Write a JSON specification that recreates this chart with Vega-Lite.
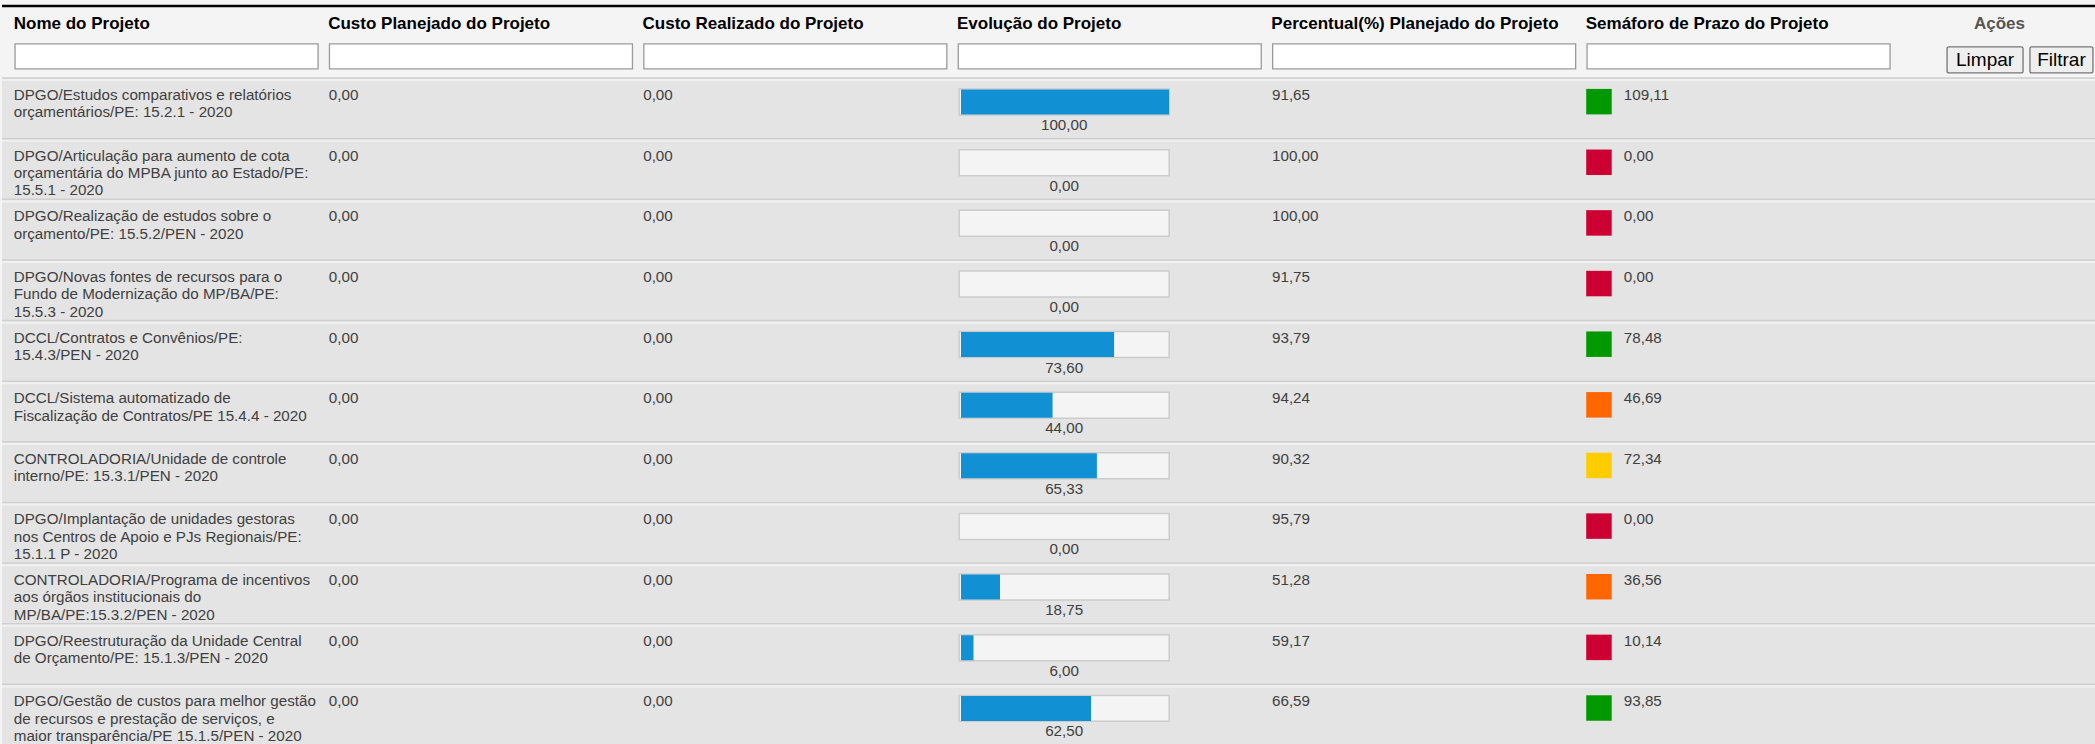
{
  "$schema": "https://vega.github.io/schema/vega-lite/v6.json",
  "padding": 0,
  "spacing": 0,
  "background": "#f4f4f4",
  "config": {
    "view": {"stroke": null},
    "font": "Liberation Sans",
    "concat": {"spacing": 0},
    "locale": {"number": {"decimal": ",", "thousands": ".", "grouping": [3], "currency": ["R$ ", ""]}}
  },
  "datasets": {
    "linhas": [
      {"id": 1, "nome": "DPGO/Estudos comparativos e relatórios\norçamentários/PE: 15.2.1 - 2020", "custoPlan": 0, "custoReal": 0, "evolucao": 100, "percentual": 91.65, "semaforo": 109.11, "status": "verde"},
      {"id": 2, "nome": "DPGO/Articulação para aumento de cota\norçamentária do MPBA junto ao Estado/PE:\n15.5.1 - 2020", "custoPlan": 0, "custoReal": 0, "evolucao": 0, "percentual": 100, "semaforo": 0, "status": "vermelho"},
      {"id": 3, "nome": "DPGO/Realização de estudos sobre o\norçamento/PE: 15.5.2/PEN - 2020", "custoPlan": 0, "custoReal": 0, "evolucao": 0, "percentual": 100, "semaforo": 0, "status": "vermelho"},
      {"id": 4, "nome": "DPGO/Novas fontes de recursos para o\nFundo de Modernização do MP/BA/PE:\n15.5.3 - 2020", "custoPlan": 0, "custoReal": 0, "evolucao": 0, "percentual": 91.75, "semaforo": 0, "status": "vermelho"},
      {"id": 5, "nome": "DCCL/Contratos e Convênios/PE:\n15.4.3/PEN - 2020", "custoPlan": 0, "custoReal": 0, "evolucao": 73.6, "percentual": 93.79, "semaforo": 78.48, "status": "verde"},
      {"id": 6, "nome": "DCCL/Sistema automatizado de\nFiscalização de Contratos/PE 15.4.4 - 2020", "custoPlan": 0, "custoReal": 0, "evolucao": 44, "percentual": 94.24, "semaforo": 46.69, "status": "laranja"},
      {"id": 7, "nome": "CONTROLADORIA/Unidade de controle\ninterno/PE: 15.3.1/PEN - 2020", "custoPlan": 0, "custoReal": 0, "evolucao": 65.33, "percentual": 90.32, "semaforo": 72.34, "status": "amarelo"},
      {"id": 8, "nome": "DPGO/Implantação de unidades gestoras\nnos Centros de Apoio e PJs Regionais/PE:\n15.1.1 P - 2020", "custoPlan": 0, "custoReal": 0, "evolucao": 0, "percentual": 95.79, "semaforo": 0, "status": "vermelho"},
      {"id": 9, "nome": "CONTROLADORIA/Programa de incentivos\naos órgãos institucionais do\nMP/BA/PE:15.3.2/PEN - 2020", "custoPlan": 0, "custoReal": 0, "evolucao": 18.75, "percentual": 51.28, "semaforo": 36.56, "status": "laranja"},
      {"id": 10, "nome": "DPGO/Reestruturação da Unidade Central\nde Orçamento/PE: 15.1.3/PEN - 2020", "custoPlan": 0, "custoReal": 0, "evolucao": 6, "percentual": 59.17, "semaforo": 10.14, "status": "vermelho"},
      {"id": 11, "nome": "DPGO/Gestão de custos para melhor gestão\nde recursos e prestação de serviços, e\nmaior transparência/PE 15.1.5/PEN - 2020", "custoPlan": 0, "custoReal": 0, "evolucao": 62.5, "percentual": 66.59, "semaforo": 93.85, "status": "verde"}
    ],
    "cabecalho": [
      {"key": "nome", "texto": "Nome do Projeto", "faixa": "titulo"},
      {"key": "custoPlan", "texto": "Custo Planejado do Projeto", "faixa": "titulo"},
      {"key": "custoReal", "texto": "Custo Realizado do Projeto", "faixa": "titulo"},
      {"key": "evolucao", "texto": "Evolução do Projeto", "faixa": "titulo"},
      {"key": "percentual", "texto": "Percentual(%) Planejado do Projeto", "faixa": "titulo"},
      {"key": "semaforo", "texto": "Semáforo de Prazo do Projeto", "faixa": "titulo"},
      {"key": "acoes", "texto": "Ações", "faixa": "titulo"}
    ],
    "filtros": [
      {"key": "nome", "faixa": "filtro"},
      {"key": "custoPlan", "faixa": "filtro"},
      {"key": "custoReal", "faixa": "filtro"},
      {"key": "evolucao", "faixa": "filtro"},
      {"key": "percentual", "faixa": "filtro"},
      {"key": "semaforo", "faixa": "filtro"}
    ],
    "botoes": [
      {"key": "acoes", "botao": "Limpar", "faixa": "filtro"},
      {"key": "acoes", "botao": "Filtrar", "faixa": "filtro"}
    ]
  },
  "vconcat": [
    {
      "width": 2095,
      "height": 77,
      "view": {"fill": "#f4f4f4", "stroke": null},
      "encoding": {
        "x": {"field": "key", "type": "nominal", "axis": null, "scale": {"type": "band", "domain": ["nome","custoPlan","custoReal","evolucao","percentual","semaforo","acoes"], "range": [8.3, 2209.1], "paddingInner": 0, "paddingOuter": 0}},
        "y": {"field": "faixa", "type": "nominal", "axis": null, "scale": {"type": "band", "domain": ["titulo", "filtro"], "range": [6, 77], "paddingInner": 0, "paddingOuter": 0}}
      },
      "layer": [
        {
          "data": {"name": "cabecalho"},
          "transform": [{"filter": "datum.key === 'nome'"}],
          "mark": {"type": "rule", "color": "#000000", "strokeWidth": 2.5},
          "encoding": {
            "x": null,
            "y": {"field": "faixa", "type": "nominal", "bandPosition": 0}
          }
        },
        {
          "data": {"name": "cabecalho"},
          "transform": [{"filter": "datum.key !== 'acoes'"}],
          "mark": {"type": "text", "align": "left", "baseline": "middle", "fontSize": 17, "fontWeight": "bold", "color": "#000000"},
          "encoding": {
            "x": {"field": "key", "type": "nominal", "bandPosition": 0.011},
            "text": {"field": "texto"}
          }
        },
        {
          "data": {"name": "cabecalho"},
          "transform": [{"filter": "datum.key === 'acoes'"}],
          "mark": {"type": "text", "align": "center", "baseline": "middle", "fontSize": 17, "fontWeight": "bold", "color": "#555555"},
          "encoding": {
            "x": {"field": "key", "type": "nominal", "bandPosition": 0.327},
            "text": {"field": "texto"}
          }
        },
        {
          "data": {"name": "filtros"},
          "mark": {"type": "point", "shape": "M-1,-0.0825H1V0.0825H-1Z", "size": 91809, "filled": true, "fill": "#ffffff", "stroke": "#9a9a9a", "strokeWidth": 1.3, "opacity": 1},
          "encoding": {
            "x": {"field": "key", "type": "nominal", "bandPosition": 0.497},
            "y": {"field": "faixa", "type": "nominal", "bandPosition": 0.42}
          }
        },
        {
          "data": {"name": "botoes"},
          "transform": [{"filter": "datum.botao === 'Limpar'"}],
          "mark": {"type": "point", "shape": "M-0.95,-0.342Q-1,-0.342 -1,-0.29V0.29Q-1,0.342 -0.95,0.342H0.95Q1,0.342 1,0.29V-0.29Q1,-0.342 0.95,-0.342Z", "size": 5776, "filled": true, "fill": "#efefef", "stroke": "#767676", "strokeWidth": 1.3, "opacity": 1},
          "encoding": {
            "x": {"field": "key", "type": "nominal", "bandPosition": 0.281},
            "y": {"field": "faixa", "type": "nominal", "bandPosition": 0.52}
          }
        },
        {
          "data": {"name": "botoes"},
          "transform": [{"filter": "datum.botao === 'Filtrar'"}],
          "mark": {"type": "point", "shape": "M-0.94,-0.413Q-1,-0.413 -1,-0.35V0.35Q-1,0.413 -0.94,0.413H0.94Q1,0.413 1,0.35V-0.35Q1,-0.413 0.94,-0.413Z", "size": 3969, "filled": true, "fill": "#efefef", "stroke": "#767676", "strokeWidth": 1.3, "opacity": 1},
          "encoding": {
            "x": {"field": "key", "type": "nominal", "bandPosition": 0.524},
            "y": {"field": "faixa", "type": "nominal", "bandPosition": 0.52}
          }
        },
        {
          "data": {"name": "botoes"},
          "transform": [{"filter": "datum.botao === 'Limpar'"}],
          "mark": {"type": "text", "align": "center", "baseline": "middle", "fontSize": 19, "color": "#000000"},
          "encoding": {
            "x": {"field": "key", "type": "nominal", "bandPosition": 0.281},
            "y": {"field": "faixa", "type": "nominal", "bandPosition": 0.52},
            "text": {"field": "botao"}
          }
        },
        {
          "data": {"name": "botoes"},
          "transform": [{"filter": "datum.botao === 'Filtrar'"}],
          "mark": {"type": "text", "align": "center", "baseline": "middle", "fontSize": 19, "color": "#000000"},
          "encoding": {
            "x": {"field": "key", "type": "nominal", "bandPosition": 0.524},
            "y": {"field": "faixa", "type": "nominal", "bandPosition": 0.52},
            "text": {"field": "botao"}
          }
        }
      ]
    },
    {
      "width": 2095,
      "height": 667,
      "view": {"fill": "#e4e4e4", "stroke": null},
      "data": {"name": "linhas"},
      "resolve": {"scale": {"x": "independent", "y": "independent"}},
      "layer": [
        {
          "encoding": {
            "y": {"field": "id", "type": "ordinal", "axis": null, "scale": {"type": "band", "domain": [1,2,3,4,5,6,7,8,9,10,11], "range": [0, 667], "paddingInner": 0, "paddingOuter": 0}}
          },
          "layer": [
            {
              "mark": {"type": "rule", "color": "#cfcfcf", "strokeWidth": 1.5},
              "encoding": {
                "y": {"field": "id", "type": "ordinal", "bandPosition": 0}
              }
            },
            {
              "mark": {"type": "rule", "color": "#f1f1f1", "strokeWidth": 2},
              "encoding": {
                "y": {"field": "id", "type": "ordinal", "bandPosition": 0.035}
              }
            },
            {
              "transform": [{"fold": ["nome", "custoPlan", "custoReal", "evolucao", "percentual", "semaforo"], "as": ["key", "val"]}],
              "encoding": {
                "x": {"field": "key", "type": "nominal", "axis": null, "scale": {"type": "band", "domain": ["nome","custoPlan","custoReal","evolucao","percentual","semaforo","acoes"], "range": [8.3, 2209.1], "paddingInner": 0, "paddingOuter": 0}}
              },
              "layer": [
                {
                  "transform": [{"filter": "datum.key === 'nome'"}],
                  "mark": {"type": "text", "align": "left", "baseline": "top", "fontSize": 15.2, "lineHeight": 17.4, "lineBreak": "\n", "color": "#404040", "dy": 10},
                  "encoding": {
                    "x": {"field": "key", "type": "nominal", "bandPosition": 0.011},
                    "y": {"field": "id", "type": "ordinal", "bandPosition": 0},
                    "text": {"field": "val"}
                  }
                },
                {
                  "transform": [{"filter": "datum.key === 'custoPlan' || datum.key === 'custoReal' || datum.key === 'percentual'"}],
                  "mark": {"type": "text", "align": "left", "baseline": "top", "fontSize": 15.2, "color": "#404040", "dy": 10},
                  "encoding": {
                    "x": {"field": "key", "type": "nominal", "bandPosition": 0.013},
                    "y": {"field": "id", "type": "ordinal", "bandPosition": 0},
                    "text": {"field": "val", "type": "quantitative", "format": ".2f"}
                  }
                },
                {
                  "transform": [{"filter": "datum.key === 'semaforo'"}],
                  "mark": {"type": "text", "align": "left", "baseline": "top", "fontSize": 15.2, "color": "#404040", "dy": 10},
                  "encoding": {
                    "x": {"field": "key", "type": "nominal", "bandPosition": 0.132},
                    "y": {"field": "id", "type": "ordinal", "bandPosition": 0},
                    "text": {"field": "val", "type": "quantitative", "format": ".2f"}
                  }
                },
                {
                  "transform": [{"filter": "datum.key === 'semaforo'"}],
                  "mark": {"type": "square", "filled": true, "size": 650, "opacity": 1},
                  "encoding": {
                    "x": {"field": "key", "type": "nominal", "bandPosition": 0.053},
                    "y": {"field": "id", "type": "ordinal", "bandPosition": 0.39},
                    "color": {"field": "status", "type": "nominal", "legend": null, "scale": {"domain": ["verde", "vermelho", "laranja", "amarelo"], "range": ["#009900", "#cc0033", "#ff6600", "#ffcc00"]}}
                  }
                },
                {
                  "transform": [{"filter": "datum.key === 'evolucao'"}],
                  "mark": {"type": "point", "shape": "M-1,-0.1238H1V0.1238H-1Z", "size": 44100, "filled": true, "fill": "#f4f4f4", "stroke": "#cccccc", "strokeWidth": 1.5, "opacity": 1},
                  "encoding": {
                    "x": {"field": "key", "type": "nominal", "bandPosition": 0.352},
                    "y": {"field": "id", "type": "ordinal", "bandPosition": 0.396}
                  }
                },
                {
                  "transform": [{"filter": "datum.key === 'evolucao'"}],
                  "mark": {"type": "text", "align": "center", "baseline": "middle", "fontSize": 15.2, "color": "#404040", "dy": 47},
                  "encoding": {
                    "x": {"field": "key", "type": "nominal", "bandPosition": 0.352},
                    "y": {"field": "id", "type": "ordinal", "bandPosition": 0},
                    "text": {"field": "val", "type": "quantitative", "format": ".2f"}
                  }
                }
              ]
            }
          ]
        },
        {
          "mark": {"type": "bar", "size": 25, "fill": "#1190d4"},
          "encoding": {
            "x": {"field": "evolucao", "type": "quantitative", "axis": null, "scale": {"type": "linear", "domain": [0, 100], "range": [959, 1167], "zero": true, "nice": false}},
            "y": {"field": "id", "type": "ordinal", "axis": null, "scale": {"type": "band", "domain": [1,2,3,4,5,6,7,8,9,10,11], "range": [-6.3, 660.7], "paddingInner": 0, "paddingOuter": 0}}
          }
        }
      ]
    }
  ]
}
